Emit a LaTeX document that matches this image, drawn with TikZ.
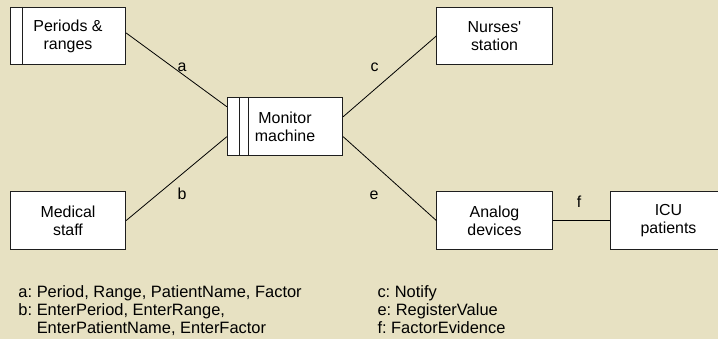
\documentclass[tikz,border=0pt]{standalone}
\usepackage{fontspec}
\setmainfont{Liberation Sans}
\frenchspacing
\definecolor{parchment}{RGB}{231,225,194}
\definecolor{edge}{RGB}{30,30,30}
\tikzset{
  agent/.style={draw=edge, line width=0.9bp, fill=white, minimum width=115.5bp,
    minimum height=57.5bp, inner sep=0pt, align=center,
    font=\fontsize{16}{18}\selectfont},
  link/.style={draw=black, line width=0.8bp},
  flowlabel/.style={inner sep=0pt, anchor=base, font=\fontsize{16}{18}\selectfont},
  legend/.style={inner sep=0pt, anchor=base west, align=left,
    font=\fontsize{16.5}{18}\selectfont},
  bar/.style={draw=edge, line width=0.9bp}
}
\begin{document}
\begin{tikzpicture}[x=1bp, y=-1bp]
  % page and background
  \fill[parchment] (0,0) rectangle (718,339);
  \useasboundingbox (0,0) rectangle (718,339);
  \clip (0,0) rectangle (718,339);

  % agents
  \node[agent] (periods) at (68,36)    {Periods \&\\ranges};
  \node[agent] (nurses)  at (494.5,36) {Nurses\textquotesingle\\station};
  \node[agent] (monitor) at (285,126.5){Monitor\\machine};
  \node[agent] (medical) at (68,220.5) {Medical\\staff};
  \node[agent] (analog)  at (494.5,220.5) {Analog\\devices};
  \node[agent] (icu)     at (668.5,220.5) {ICU\\patients};

  % side bars marking machine boxes
  \draw[bar] ([xshift=13bp]periods.north west) -- ([xshift=13bp]periods.south west);
  \draw[bar] ([xshift=13bp]monitor.north west) -- ([xshift=13bp]monitor.south west);
  \draw[bar] ([xshift=22bp]monitor.north west) -- ([xshift=22bp]monitor.south west);

  % connections
  \draw[link] ([yshift=3bp]periods.east) -- ([yshift=19.8bp]monitor.west);
  \draw[link] (medical.east) -- ([yshift=-10.2bp]monitor.west);
  \draw[link] ([yshift=9.8bp]monitor.east) -- (nurses.west);
  \draw[link] ([yshift=-10.2bp]monitor.east) -- (analog.west);
  \draw[link] (analog.east) -- (icu.west);

  % connection labels
  \node[flowlabel] (la) at (182,71.5)  {a};
  \node[flowlabel] (lb) at (182,199)   {b};
  \node[flowlabel] (lc) at (374.5,71.5){c};
  \node[flowlabel] (le) at (374,199)   {e};
  \node[flowlabel] (lf) at (579,207)   {f};

  % legend (anchored on the baseline of its last line)
  \node[legend] (legab) at (18.3,333.5)
    {a: Period, Range, PatientName, Factor\\
     b: EnterPeriod, EnterRange,\\
     \phantom{b: }EnterPatientName, EnterFactor};
  \node[legend] (legcef) at (377.3,333.5)
    {c: Notify\\
     e: RegisterValue\\
     f: FactorEvidence};
\end{tikzpicture}
\end{document}
